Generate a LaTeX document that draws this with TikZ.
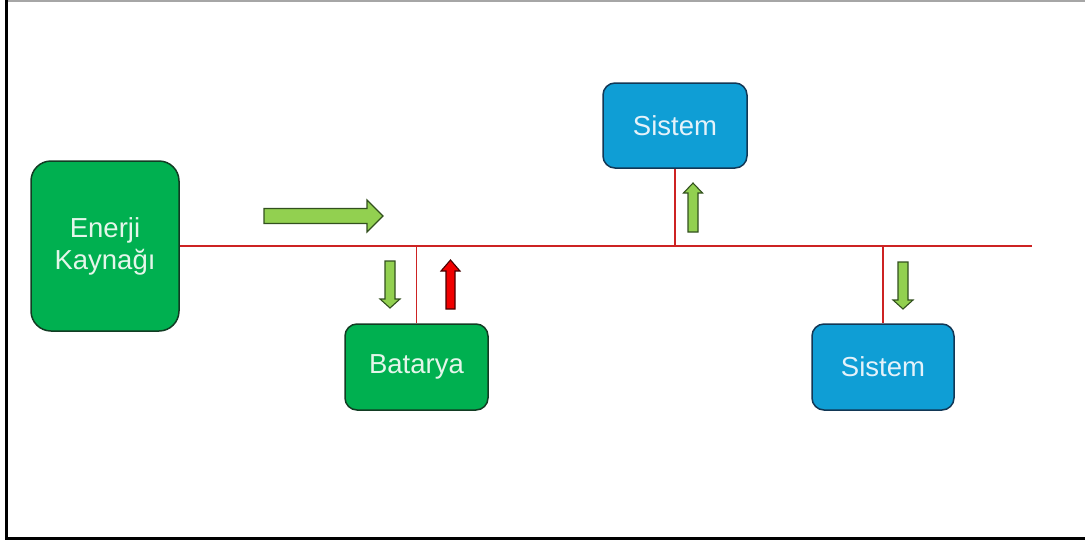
\documentclass[tikz,border=0pt]{standalone}
\usepackage{fontspec}
\setmainfont{Liberation Sans}
\definecolor{boxgreen}{RGB}{0,176,80}
\definecolor{boxgreenline}{RGB}{18,60,35}
\definecolor{boxblue}{RGB}{15,158,213}
\definecolor{boxblueline}{RGB}{18,55,85}
\definecolor{arrowgreen}{RGB}{146,208,80}
\definecolor{arrowgreenline}{RGB}{50,80,30}
\definecolor{arrowred}{RGB}{240,0,0}
\definecolor{arrowredline}{RGB}{70,0,0}
\definecolor{busred}{RGB}{205,35,35}
\definecolor{labelgreen}{RGB}{228,246,234}
\definecolor{labelblue}{RGB}{228,242,250}
\tikzset{
  gbox/.style={draw=boxgreenline, fill=boxgreen, line width=1.5pt,
    text=labelgreen, font=\fontsize{27.5}{32}\selectfont, align=center,
    rounded corners=12pt, inner sep=0pt},
  bbox/.style={draw=boxblueline, fill=boxblue, line width=1.5pt,
    text=labelblue, font=\fontsize{27.5}{32}\selectfont, align=center,
    rounded corners=12pt, inner sep=0pt},
  bus/.style={draw=busred, line width=1.4pt},
  greenflow/.style={draw=arrowgreenline, fill=arrowgreen, line width=1.1pt},
  redflow/.style={draw=arrowredline, fill=arrowred, line width=1.1pt},
  % block arrow pointing along +x from the origin:
  % #1 total length, #2 half shaft width, #3 half head width, #4 head length
  pics/blockarrow/.style n args={4}{code={
    \path[pic actions] (0,-#2) -- ({#1-#4},-#2) -- ({#1-#4},-#3) -- (#1,0)
      -- ({#1-#4},#3) -- ({#1-#4},#2) -- (0,#2) -- cycle;
  }}
}
\begin{document}
\begin{tikzpicture}[x=1pt, y=-1pt]
  \useasboundingbox (0,0) rectangle (1085,542);

  % page frame
  \draw[gray!70, line width=1.5pt] (6.5,1) -- (1085,1);
  \draw[black, line width=3pt] (6.5,0) -- (6.5,538.5) -- (1085,538.5);

  % blocks
  \node[gbox, minimum width=148pt, minimum height=170pt, rounded corners=20pt]
    (src) at (105,246) {Enerji\\Kaynağı};
  \node[gbox, minimum width=143pt, minimum height=86pt] (bat) at (416.5,367) {Batarya};
  \node[bbox, minimum width=144pt, minimum height=85pt] (sysA) at (675,125.5) {Sistem};
  \node[bbox, minimum width=142pt, minimum height=86pt] (sysB) at (883,367) {Sistem};

  % bus line and taps
  \coordinate (busend) at (1032,246);
  \draw[bus] (src.east) -- (busend);
  \draw[bus] (bat.north) -- (bat.north |- busend);
  \draw[bus] (sysA.south) -- (sysA.south |- busend);
  \draw[bus] (sysB.north) -- (sysB.north |- busend);

  % power flow arrows
  \pic[greenflow] at (264,216) {blockarrow={119}{7.5}{16}{16}};
  \pic[greenflow, rotate=-90] at (390,261) {blockarrow={47}{5}{10}{9}};
  \pic[redflow, rotate=90] at (450.5,309) {blockarrow={49}{4.5}{9.5}{11}};
  \pic[greenflow, rotate=90] at (693,232) {blockarrow={49}{5}{9.5}{10}};
  \pic[greenflow, rotate=-90] at (903,262) {blockarrow={47}{5}{10}{9}};
\end{tikzpicture}
\end{document}
